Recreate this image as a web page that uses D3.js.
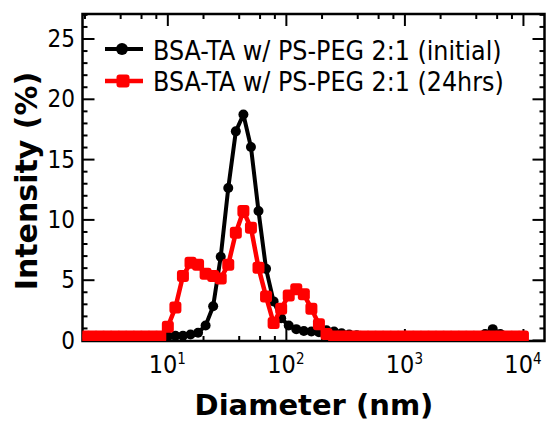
<html>
<head>
  <script src='https://d3js.org/d3.v7.min.js'></script>
  <style>
    body { margin: 0; background: #fff; }
    .lbl { font-family: 'DejaVu Sans Condensed', 'DejaVu Sans', sans-serif; font-stretch: condensed; }
    .ttl { font-family: 'DejaVu Sans', sans-serif; font-weight: bold; }
  </style>
</head>
<body>
<script>

// Malvern size classes (nm)
var sizes = [0.4, 0.4632, 0.5365, 0.6213, 0.7195, 0.8332, 0.9649, 1.117, 1.294, 1.499,
  1.736, 2.01, 2.328, 2.696, 3.122, 3.615, 4.187, 4.849, 5.615, 6.503,
  7.531, 8.721, 10.1, 11.7, 13.54, 15.69, 18.17, 21.04, 24.36, 28.21,
  32.67, 37.84, 43.82, 50.75, 58.77, 68.06, 78.82, 91.28, 105.7, 122.4,
  141.8, 164.2, 190.1, 220.2, 255.0, 295.3, 342.0, 396.1, 458.7, 531.2,
  615.1, 712.4, 825.0, 955.4, 1106, 1281, 1484, 1718, 1990, 2305,
  2669, 3091, 3580, 4145, 4801, 5560, 6439, 7456, 8635, 10000];

// intensity (%) - initial
var initial = [0.3, 0.3, 0.3, 0.3, 0.3, 0.3, 0.3, 0.3, 0.3, 0.3,
  0.3, 0.3, 0.3, 0.3, 0.3, 0.3, 0.3, 0.3, 0.3, 0.3,
  0.3, 0.3, 0.3, 0.35, 0.35, 0.45, 0.6, 1.2, 2.8, 6.9,
  12.6, 17.3, 18.7, 16.0, 10.7, 5.9, 3.2, 1.8, 1.2, 0.9,
  0.75, 0.7, 0.65, 0.8, 0.7, 0.55, 0.45, 0.4, 0.3, 0.3,
  0.3, 0.3, 0.3, 0.3, 0.3, 0.3, 0.3, 0.3, 0.3, 0.3,
  0.3, 0.3, 0.3, 0.3, 0.5, 0.9, 0.5, 0.3, 0.3, 0.3];

// intensity (%) - 24hrs
var hrs24 = [0.3, 0.3, 0.3, 0.3, 0.3, 0.3, 0.3, 0.3, 0.3, 0.3,
  0.3, 0.3, 0.3, 0.3, 0.3, 0.3, 0.3, 0.3, 0.3, 0.3,
  0.3, 0.3, 1.1, 2.7, 5.3, 6.4, 6.25, 5.5, 5.3, 5.1,
  6.25, 8.9, 10.7, 9.3, 6.0, 3.6, 1.4, 2.6, 3.7, 4.2,
  3.8, 2.6, 1.3, 0.5, 0.3, 0.3, 0.3, 0.3, 0.3, 0.3,
  0.3, 0.3, 0.3, 0.3, 0.3, 0.3, 0.3, 0.3, 0.3, 0.3,
  0.3, 0.3, 0.3, 0.3, 0.3, 0.3, 0.3, 0.3, 0.3, 0.3];

var seriesNames = ['BSA-TA w/ PS-PEG 2:1 (initial)', 'BSA-TA w/ PS-PEG 2:1 (24hrs)'];

var yMajor = [0, 5, 10, 15, 20, 25];
var yMinor = [1, 2, 3, 4, 6, 7, 8, 9, 11, 12, 13, 14, 16, 17, 18, 19, 21, 22, 23, 24, 26, 27];
var xMajor = [10, 100, 1000, 10000];
var xExp = ['1', '2', '3', '4'];
var xMinor = [2, 4, 6, 8, 20, 40, 60, 80, 200, 400, 600, 800, 2000, 4000, 6000, 8000];

var width = 546, height = 421;
var pL = 82.5, pR = 544.5, pT = 14, pB = 341;

var svg = d3.select('body').append('svg')
  .attr('width', width)
  .attr('height', height);

var x = d3.scaleLog().domain([1.925, 15200]).range([pL, pR]);
var y = d3.scaleLinear().domain([0, 25]).range([340, 38.5]);

svg.append('clipPath').attr('id', 'clip')
  .append('rect')
  .attr('x', pL).attr('y', pT)
  .attr('width', pR - pL).attr('height', pB - pT);

// ticks, all pointing in
function ticks(axis, tx, ty) {
  var g = svg.append('g').attr('transform', 'translate(' + tx + ',' + ty + ')').call(axis);
  g.select('.domain').remove();
  g.selectAll('line').attr('stroke', '#000').attr('stroke-width', 2);
  g.selectAll('text').remove();
}
ticks(d3.axisLeft(y).tickValues(yMajor).tickSize(-12), pL, 0);
ticks(d3.axisLeft(y).tickValues(yMinor).tickSize(-5), pL, 0);
ticks(d3.axisRight(y).tickValues(yMajor).tickSize(-12), pR, 0);
ticks(d3.axisRight(y).tickValues(yMinor).tickSize(-5), pR, 0);
ticks(d3.axisBottom(x).tickValues(xMajor).tickSize(-12), 0, pB);
ticks(d3.axisBottom(x).tickValues(xMinor).tickSize(-5), 0, pB);
ticks(d3.axisTop(x).tickValues(xMajor).tickSize(-12), 0, pT);
ticks(d3.axisTop(x).tickValues(xMinor).tickSize(-5), 0, pT);

// frame
svg.append('rect')
  .attr('x', pL).attr('y', pT)
  .attr('width', pR - pL).attr('height', pB - pT)
  .attr('fill', 'none').attr('stroke', '#000').attr('stroke-width', 2.5);

// tick labels
svg.selectAll('.ylab').data(yMajor).enter().append('text')
  .attr('class', 'lbl')
  .attr('x', 75).attr('y', function(d){ return y(d) + 8.5; })
  .attr('text-anchor', 'end')
  .attr('font-size', 24)
  .text(function(d){ return d; });

var xl = svg.selectAll('.xlab').data(xMajor).enter().append('text')
  .attr('class', 'lbl')
  .attr('x', function(d){ return x(d); }).attr('y', 373)
  .attr('text-anchor', 'middle')
  .attr('font-size', 25);
xl.append('tspan').text('10');
xl.append('tspan').attr('dy', -9).attr('font-size', 15).text(function(d, i){ return xExp[i]; });

// titles
svg.append('text').attr('class', 'ttl')
  .attr('x', 314).attr('y', 415)
  .attr('text-anchor', 'middle')
  .attr('font-size', 29)
  .text('Diameter (nm)');
svg.append('text').attr('class', 'ttl')
  .attr('transform', 'translate(37,181) rotate(-90)')
  .attr('text-anchor', 'middle')
  .attr('font-size', 30)
  .text('Intensity (%)');

// data
var plot = svg.append('g').attr('clip-path', 'url(#clip)');
var line = d3.line().x(function(d){ return x(d[0]); }).y(function(d){ return y(d[1]); });

var blk = d3.zip(sizes, initial);
plot.append('path').datum(blk)
  .attr('d', line).attr('fill', 'none')
  .attr('stroke', '#000').attr('stroke-width', 4).attr('stroke-linejoin', 'round');
plot.selectAll('.dot').data(blk).enter().append('circle')
  .attr('cx', function(d){ return x(d[0]); })
  .attr('cy', function(d){ return y(d[1]); })
  .attr('r', 5).attr('fill', '#000');

var red = d3.zip(sizes, hrs24);
plot.append('path').datum(red)
  .attr('d', line).attr('fill', 'none')
  .attr('stroke', '#ff0000').attr('stroke-width', 4.5).attr('stroke-linejoin', 'round');
plot.selectAll('.sq').data(red).enter().append('rect')
  .attr('x', function(d){ return x(d[0]) - 6; })
  .attr('y', function(d){ return y(d[1]) - 6; })
  .attr('width', 12).attr('height', 12).attr('rx', 3)
  .attr('fill', '#ff0000');

// legend
var leg = svg.append('g');
leg.append('line').attr('x1', 105).attr('x2', 143).attr('y1', 49).attr('y2', 49)
  .attr('stroke', '#000').attr('stroke-width', 4);
leg.append('circle').attr('cx', 122).attr('cy', 49).attr('r', 6).attr('fill', '#000');
leg.append('line').attr('x1', 105).attr('x2', 143).attr('y1', 81).attr('y2', 81)
  .attr('stroke', '#ff0000').attr('stroke-width', 4.5);
leg.append('rect').attr('x', 116.5).attr('y', 74.5).attr('width', 13).attr('height', 13)
  .attr('rx', 3).attr('fill', '#ff0000');
leg.selectAll('.lt').data(seriesNames).enter().append('text')
  .attr('class', 'lbl')
  .attr('x', 153).attr('y', function(d, i){ return 59.5 + i * 31.5; })
  .attr('font-size', 26.5)
  .text(function(d){ return d; });

</script>
</body>
</html>
